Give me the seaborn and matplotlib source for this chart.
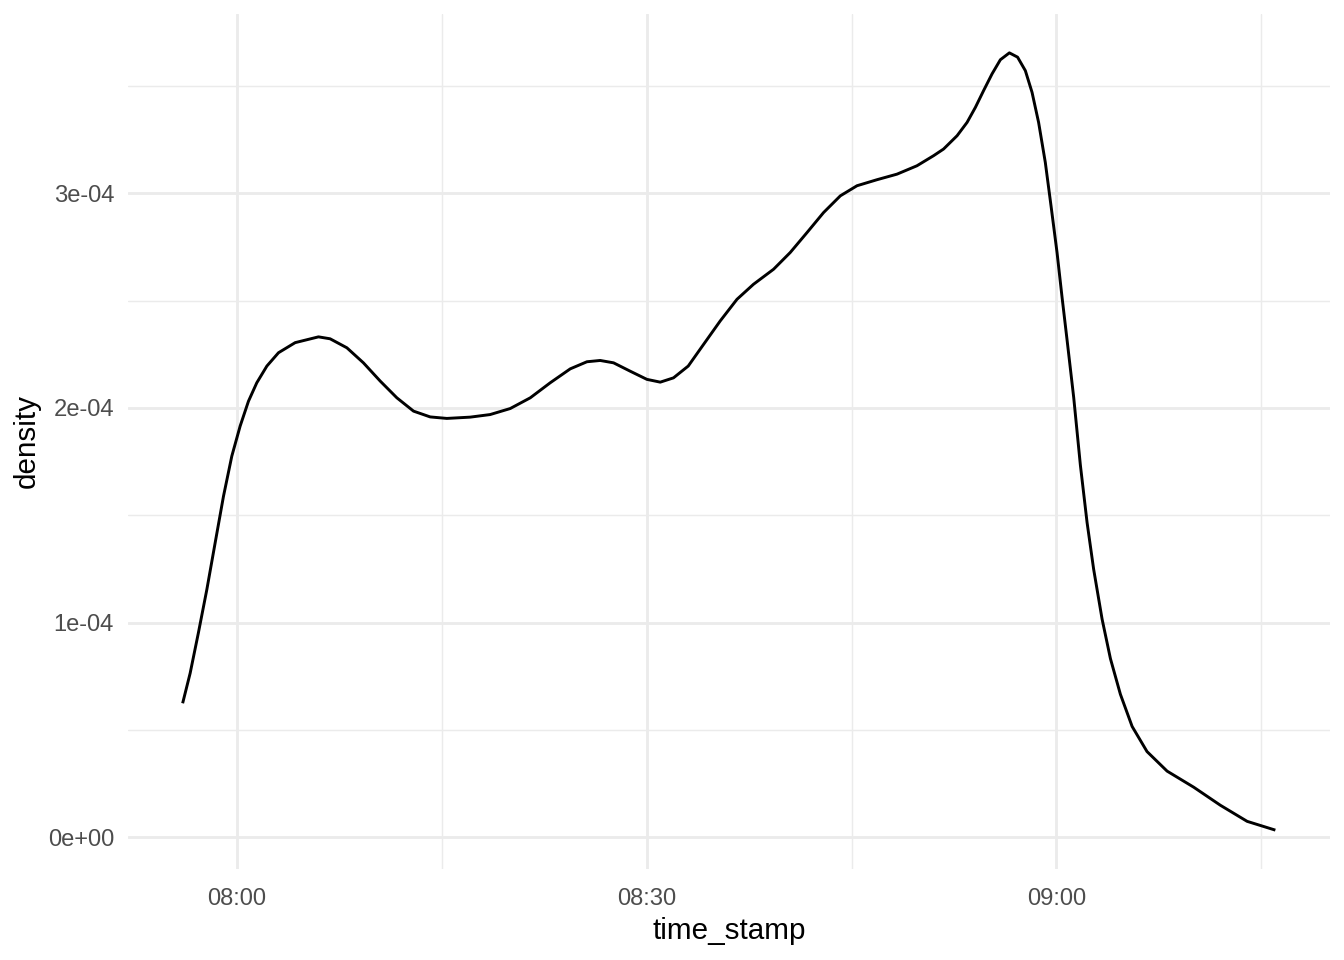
import numpy as np
import pandas as pd
import matplotlib
matplotlib.use("Agg")
import matplotlib.pyplot as plt
import matplotlib.dates as mdates
import seaborn as sns

# minutes after 08:00 and the density
minutes_after_eight = [
    -3.99, -3.44, -2.84, -2.22, -1.61, -1.00, -0.39, 0.22, 0.83, 1.44,
    2.18, 3.03, 4.25, 5.96, 6.81, 8.04, 9.25, 10.48, 11.70, 12.92,
    14.14, 15.36, 17.07, 18.53, 20.00, 21.47, 22.93, 24.40, 25.62, 26.59,
    27.57, 28.79, 30.01, 30.99, 31.96, 33.04, 34.03, 35.38, 36.61, 37.82,
    39.29, 40.51, 41.74, 42.95, 44.18, 45.40, 46.86, 48.33, 49.79, 51.01,
    51.74, 52.73, 53.46, 54.07, 54.67, 55.29, 55.90, 56.56, 57.16, 57.73,
    58.22, 58.70, 59.19, 59.61, 60.05, 60.42, 60.78, 61.27, 61.76, 62.25,
    62.73, 63.35, 63.96, 64.69, 65.55, 66.64, 68.11, 70.06, 72.01, 73.97,
    76.04,
]
density = [
    0.624e-4, 0.764e-4, 0.951e-4, 1.153e-4, 1.371e-4, 1.588e-4, 1.775e-4, 1.915e-4, 2.031e-4, 2.117e-4,
    2.195e-4, 2.257e-4, 2.304e-4, 2.331e-4, 2.322e-4, 2.280e-4, 2.210e-4, 2.125e-4, 2.047e-4, 1.985e-4,
    1.958e-4, 1.951e-4, 1.957e-4, 1.969e-4, 1.997e-4, 2.047e-4, 2.117e-4, 2.182e-4, 2.215e-4, 2.221e-4,
    2.210e-4, 2.171e-4, 2.133e-4, 2.120e-4, 2.140e-4, 2.195e-4, 2.284e-4, 2.405e-4, 2.506e-4, 2.576e-4,
    2.646e-4, 2.724e-4, 2.817e-4, 2.910e-4, 2.988e-4, 3.035e-4, 3.063e-4, 3.089e-4, 3.128e-4, 3.175e-4,
    3.206e-4, 3.268e-4, 3.330e-4, 3.400e-4, 3.478e-4, 3.556e-4, 3.622e-4, 3.654e-4, 3.634e-4, 3.571e-4,
    3.470e-4, 3.330e-4, 3.144e-4, 2.941e-4, 2.724e-4, 2.514e-4, 2.319e-4, 2.049e-4, 1.733e-4, 1.466e-4,
    1.249e-4, 1.016e-4, 0.832e-4, 0.666e-4, 0.516e-4, 0.399e-4, 0.308e-4, 0.233e-4, 0.149e-4, 0.074e-4,
    0.033e-4,
]
y_tick_values = [0.0, 1e-4, 2e-4, 3e-4]
y_tick_labels = ["0e+00", "1e-04", "2e-04", "3e-04"]
y_minor_values = [0.5e-4, 1.5e-4, 2.5e-4, 3.5e-4]

base = pd.Timestamp("2020-01-01 08:00:00")
df = pd.DataFrame({
    "time_stamp": base + pd.to_timedelta(minutes_after_eight, unit="m"),
    "density": density,
})

sns.set_theme(style="white")
plt.rcParams["font.family"] = ["Liberation Sans", "DejaVu Sans"]

fig = plt.figure(figsize=(13.44, 9.6), dpi=100)
ax = fig.add_axes([128 / 1344, 1 - 869 / 960, (1330 - 128) / 1344, (869 - 14) / 960])

sns.lineplot(data=df, x="time_stamp", y="density", color="black", lw=2.1, ax=ax)
for ln in ax.get_lines():
    ln.set_solid_joinstyle("round")
    ln.set_solid_capstyle("butt")

# ggplot-like 5% expansion
t0, t1 = df["time_stamp"].min(), df["time_stamp"].max()
span = t1 - t0
ax.set_xlim(t0 - 0.05 * span, t1 + 0.05 * span)
d0, d1 = df["density"].min(), df["density"].max()
dr = d1 - d0
ax.set_ylim(d0 - 0.05 * dr, d1 + 0.05 * dr)

ax.xaxis.set_major_locator(mdates.MinuteLocator(byminute=[0, 30]))
ax.xaxis.set_minor_locator(mdates.MinuteLocator(byminute=[15, 45]))
ax.xaxis.set_major_formatter(mdates.DateFormatter("%H:%M"))
ax.set_yticks(y_tick_values)
ax.set_yticklabels(y_tick_labels)
ax.set_yticks(y_minor_values, minor=True)

ax.set_axisbelow(True)
ax.grid(which="major", color="#EBEBEB", lw=2.05)
ax.grid(which="minor", color="#EBEBEB", lw=1.03)
for s in ax.spines.values():
    s.set_visible(False)
ax.tick_params(which="both", length=0)
ax.tick_params(axis="both", which="major", labelsize=17.1, labelcolor="#4D4D4D")
ax.tick_params(axis="x", pad=13.9)
ax.tick_params(axis="y", pad=10)

ax.set_xlabel("time_stamp", fontsize=21.3, color="black")
ax.set_ylabel("density", fontsize=21.3, color="black")
ax.xaxis.set_label_coords(0.5, -0.0566)
ax.yaxis.set_label_coords(-0.0723, 0.5)

fig.savefig("out.png", dpi=100)
